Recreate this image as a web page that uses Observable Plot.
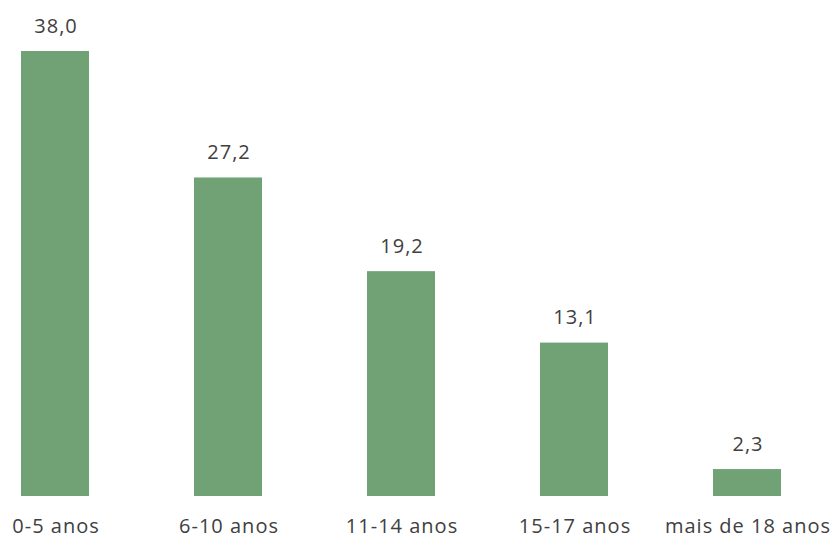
<!DOCTYPE html>
<html>
<head>
<meta charset="utf-8">
<script src="https://cdn.jsdelivr.net/npm/d3@7"></script>
<script src="https://cdn.jsdelivr.net/npm/@observablehq/plot@0.6"></script>
<style>
  html, body { margin: 0; padding: 0; background: #fff; }
  #chart svg { display: block; }
  #chart svg text { letter-spacing: 1px; }
</style>
</head>
<body>
<div id="chart"></div>
<script>
const categories = ["0-5 anos", "6-10 anos", "11-14 anos", "15-17 anos", "mais de 18 anos"];
const values = [38.0, 27.2, 19.2, 13.1, 2.3];
const data = categories.map((c, i) => ({category: c, value: values[i]}));
const fmt = v => v.toFixed(1).replace(".", ",");

const chart = Plot.plot({
  width: 833,
  height: 538,
  marginLeft: 21,
  marginRight: 52,
  marginTop: 51,
  marginBottom: 42,
  style: {fontFamily: "'Open Sans', sans-serif", fontSize: "20px", color: "#404040", background: "#fff", overflow: "visible"},
  x: {domain: categories, paddingInner: 0.607, paddingOuter: 0, align: 0, label: null},
  y: {domain: [0, 38], axis: null},
  marks: [
    Plot.barY(data, {x: "category", y: "value", fill: "#70a275"}),
    Plot.text(data, {x: "category", y: "value", text: d => fmt(d.value), dy: -25, dx: 0.5, fontSize: 20, fill: "#404040"}),
    Plot.axisX({tickSize: 0, tickPadding: 22, dx: 0.5, fontSize: 20, fill: "#404040", label: null})
  ]
});
document.getElementById("chart").append(chart);
</script>
</body>
</html>
